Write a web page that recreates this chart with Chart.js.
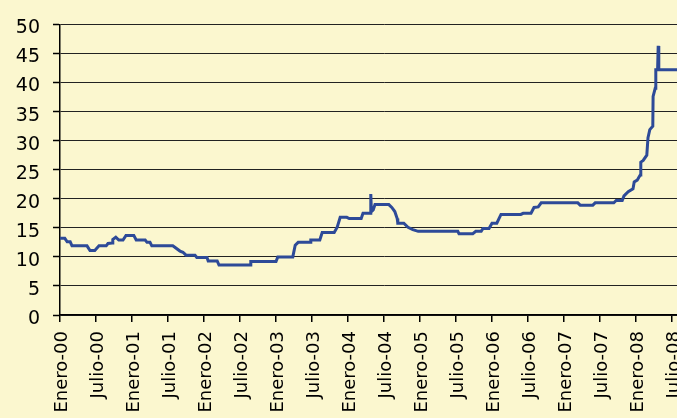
<!DOCTYPE html>
<html>
<head>
<meta charset="utf-8">
<script src="https://cdn.jsdelivr.net/npm/chart.js@4/dist/chart.umd.min.js"></script>
<style>
  html, body { margin: 0; padding: 0; background: #fbf7cf; overflow: hidden; }
  #wrap { width: 760px; height: 418px; }
</style>
</head>
<body>
<div id="wrap"><canvas id="grafico" width="760" height="418"></canvas></div>
<script>
// months counted from Enero-00
let meses = [
  0, 0.8, 1.2, 1.7, 2.0, 4.5, 5.0, 5.8, 6.5, 7.7, 8.0, 8.7, 8.8, 9.3, 9.8, 10.5,
  11.0, 12.3, 12.7, 14.2, 14.5, 15.0, 15.3, 18.8, 20.0, 20.5, 21.0, 22.5, 22.8, 24.5,
  24.7, 26.2, 26.5, 31.7, 31.8, 36.0, 36.3, 38.8, 39.2, 39.7, 41.7, 41.8, 43.3, 43.7,
  45.7, 46.2, 46.7, 47.8, 48.2, 50.2, 50.5, 51.7, 51.8, 51.9, 52.2, 52.5, 54.8, 55.3,
  55.8, 56.2, 56.3, 57.3, 58.0, 58.8, 59.7, 66.3, 66.5, 68.8, 69.3, 70.2, 70.5, 71.5,
  72.0, 72.8, 73.5, 76.8, 77.2, 78.5, 79.0, 79.7, 80.2, 86.3, 86.7, 88.8, 89.2, 92.3,
  92.7, 93.7, 94.0, 94.7, 95.5, 95.7, 96.2, 96.7, 96.8, 97.2, 97.8, 98.0, 98.3, 98.8,
  98.85, 99.2, 99.3, 99.6, 99.7, 99.8, 104
];
let valores = [
  13.2, 13.2, 12.6, 12.6, 11.9, 11.9, 11.1, 11.1, 11.9, 11.9, 12.3, 12.4, 13.0, 13.4, 12.9, 12.9,
  13.7, 13.7, 12.9, 12.9, 12.5, 12.5, 11.9, 11.9, 11.0, 10.8, 10.3, 10.3, 9.9, 9.9,
  9.3, 9.3, 8.6, 8.6, 9.2, 9.2, 10.0, 10.0, 12.0, 12.5, 12.5, 12.9, 12.9, 14.2,
  14.2, 15.1, 16.8, 16.8, 16.6, 16.6, 17.5, 17.5, 20.8, 17.8, 18.1, 19.0, 19.0, 18.5,
  17.8, 16.6, 15.8, 15.8, 15.1, 14.7, 14.4, 14.4, 14.0, 14.0, 14.4, 14.4, 14.9, 14.9,
  15.8, 15.8, 17.3, 17.3, 17.5, 17.5, 18.5, 18.6, 19.3, 19.3, 18.9, 18.9, 19.3, 19.3,
  19.7, 19.7, 20.5, 21.2, 21.7, 22.9, 23.2, 24.1, 26.3, 26.6, 27.5, 30.5, 31.9, 32.5,
  37.6, 39.0, 42.2, 42.2, 46.3, 42.2, 42.2
];
let etiquetasX = [
  'Enero-00', 'Julio-00', 'Enero-01', 'Julio-01', 'Enero-02', 'Julio-02',
  'Enero-03', 'Julio-03', 'Enero-04', 'Julio-04', 'Enero-05', 'Julio-05',
  'Enero-06', 'Julio-06', 'Enero-07', 'Julio-07', 'Enero-08', 'Julio-08'
];
let marcasY = [0, 5, 10, 15, 20, 25, 30, 35, 40, 45, 50];

let puntos = meses.map((m, i) => { return {x: m, y: valores[i]}; });

let grafico = new Chart(document.getElementById('grafico'), {
  type: 'line',
  data: {
    datasets: [{
      data: puntos,
      borderColor: '#2d4a98',
      borderWidth: 3,
      pointRadius: 0,
      tension: 0,
      fill: false
    }]
  },
  options: {
    responsive: false,
    animation: false,
    layout: { padding: { top: 20, right: 52, left: 0, bottom: 0 } },
    plugins: { legend: { display: false }, tooltip: { enabled: false } },
    scales: {
      x: {
        type: 'linear',
        min: 0,
        max: 108,
        afterBuildTicks: (axis) => {
          axis.ticks = etiquetasX.map((t, i) => { return {value: i * 6}; });
        },
        afterFit: (axis) => { axis.height = 103; },
        border: { display: true, color: '#000', width: 1.5 },
        grid: { drawOnChartArea: false, tickLength: 7, color: '#000', lineWidth: 1.5 },
        ticks: {
          autoSkip: false,
          minRotation: 90,
          maxRotation: 90,
          padding: 9,
          labelOffset: 2,
          color: '#000',
          font: { family: 'DejaVu Sans', size: 18 },
          callback: (v) => etiquetasX[Math.round(v / 6)] || ''
        }
      },
      y: {
        min: 0,
        max: 50,
        afterBuildTicks: (axis) => {
          axis.ticks = marcasY.map((v) => { return {value: v}; });
        },
        afterFit: (axis) => { axis.width = 60; },
        border: { display: true, color: '#000', width: 1.5 },
        grid: {
          color: '#222',
          lineWidth: 1,
          borderDash: [4, 3],
          tickBorderDash: [],
          tickColor: '#000',
          tickWidth: 1.5,
          tickLength: 7
        },
        ticks: {
          padding: 13,
          labelOffset: 4,
          color: '#000',
          font: { family: 'DejaVu Sans', size: 19 }
        }
      }
    }
  }
});
</script>
</body>
</html>
